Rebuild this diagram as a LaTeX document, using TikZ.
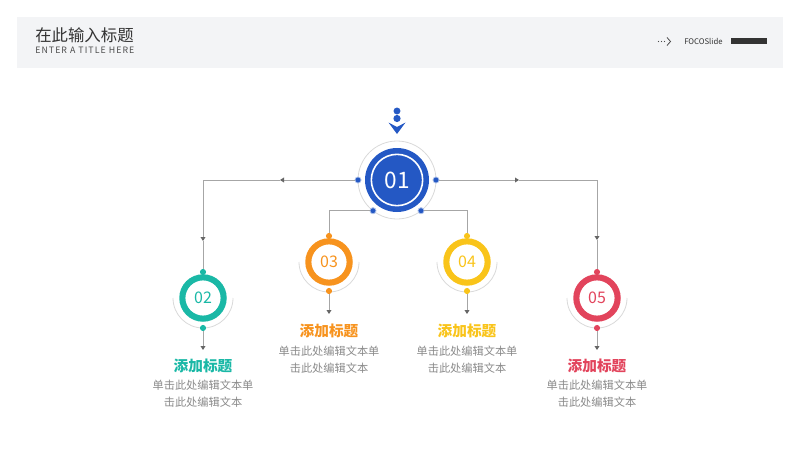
\documentclass[tikz,border=0pt]{standalone}
\usepackage{fontspec}
\setmainfont{Noto Sans CJK SC}
\usetikzlibrary{arrows.meta}
\definecolor{HeadGray}{RGB}{243,244,246}
\definecolor{HubBlue}{RGB}{36,88,196}
\definecolor{Teal}{RGB}{26,184,166}
\definecolor{Orange}{RGB}{247,147,30}
\definecolor{Gold}{RGB}{249,196,26}
\definecolor{Rose}{RGB}{226,68,92}
\definecolor{LinkGray}{RGB}{166,166,166}
\definecolor{RingGray}{RGB}{217,217,217}
\definecolor{TextGray}{RGB}{138,138,138}

\begin{document}
\begin{tikzpicture}[x=0.75pt,y=-0.75pt,
    link/.style={draw=LinkGray,line width=0.75pt},
    tip/.style={-{Triangle[length=3pt,width=3.6pt,fill=black!60,color=black!60]}},
    numring/.style={circle,draw=#1,line width=4.6pt,minimum size=31pt,inner sep=0pt,text=#1,
        font=\fontsize{12}{14}\selectfont},
    ringdot/.style={circle,fill=#1,minimum size=4.6pt,inner sep=0pt},
    hubdot/.style={circle,fill=HubBlue,draw=HubBlue!35,line width=0.6pt,minimum size=4.6pt,inner sep=0pt},
    halfarc/.style={draw=RingGray,line width=0.6pt},
    heading/.style={text=#1,font=\fontsize{11}{13}\selectfont\bfseries},
    desc/.style={text=TextGray,align=center,font=\fontsize{8.4}{12.75}\selectfont}]
    \useasboundingbox (0,0) rectangle (800,450);
    % header band
    \fill[HeadGray] (17,17) rectangle (783,68);
    \node[anchor=west,inner sep=0pt,text=black!80] (title) at (35,35) {\fontsize{12.3}{14}\selectfont 在此输入标题};
    \node[anchor=west,inner sep=0pt,text=black!70] (subtitle) at (35,50)
        {\fontsize{6.6}{8}\selectfont\addfontfeatures{LetterSpace=12}ENTER A TITLE HERE};
    \foreach \i in {658.5,661.5,664.5} \fill[black!70] (\i,41.5) circle (0.45pt);
    \draw[black!70,line width=0.6pt] (667,37.5) -- (670.5,41.5) -- (667,45.5);
    \node[anchor=west,inner sep=0pt,text=black!80] (brand) at (684,41) {\fontsize{5.8}{7}\selectfont FOCOSlide};
    \fill[black!80] (731,38) rectangle (767,44);

    % hub
    \node[ringdot=HubBlue,minimum size=5.2pt] (dotA) at (397,111) {};
    \node[ringdot=HubBlue,minimum size=5.4pt] (dotB) at (397,118.5) {};
    \fill[HubBlue] (388.5,122.5) -- (397,127) -- (405.5,122.5) -- (397,134) -- cycle;
    \node[circle,draw=RingGray,line width=0.6pt,minimum size=58.5pt,outer sep=0pt] (hub) at (397,180) {};
    \node[circle,fill=HubBlue,minimum size=48pt] (disk) at (397,180) {};
    \node[circle,draw=white,line width=1.2pt,minimum size=38.5pt,text=white,
        font=\fontsize{17}{20}\selectfont] (hubnum) at (397,180) {01};
    \node[hubdot] (hl) at (hub.180) {};
    \node[hubdot] (hr) at (hub.0) {};
    \node[hubdot] (hbl) at (hub.232) {};
    \node[hubdot] (hbr) at (hub.308) {};

    % items
    \draw[halfarc] (173,298) arc[start angle=180,end angle=360,radius=22.5pt];
    \node[numring=Teal] (n2) at (203,298) {02};
    \node[ringdot=Teal] (t2) at (203,272) {};
    \node[ringdot=Teal] (u2) at (203,328) {};
    \node[heading=Teal] (h2) at (203,366) {添加标题};
    \node[desc] (b2) at (203,394) {单击此处编辑文本单\\击此处编辑文本};

    \draw[halfarc] (299,262) arc[start angle=180,end angle=360,radius=22.5pt];
    \node[numring=Orange] (n3) at (329,262) {03};
    \node[ringdot=Orange] (t3) at (329,236) {};
    \node[ringdot=Orange] (u3) at (329,291) {};
    \node[heading=Orange] (h3) at (329,331) {添加标题};
    \node[desc] (b3) at (329,360) {单击此处编辑文本单\\击此处编辑文本};

    \draw[halfarc] (437,262) arc[start angle=180,end angle=360,radius=22.5pt];
    \node[numring=Gold] (n4) at (467,262) {04};
    \node[ringdot=Gold] (t4) at (467,236) {};
    \node[ringdot=Gold] (u4) at (467,291) {};
    \node[heading=Gold] (h4) at (467,331) {添加标题};
    \node[desc] (b4) at (467,360) {单击此处编辑文本单\\击此处编辑文本};

    \draw[halfarc] (567,298) arc[start angle=180,end angle=360,radius=22.5pt];
    \node[numring=Rose] (n5) at (597,298) {05};
    \node[ringdot=Rose] (t5) at (597,272) {};
    \node[ringdot=Rose] (u5) at (597,328) {};
    \node[heading=Rose] (h5) at (597,366) {添加标题};
    \node[desc] (b5) at (597,394) {单击此处编辑文本单\\击此处编辑文本};

    % connectors
    \coordinate (la) at (280,180);
    \coordinate (ra) at (519,180);
    \coordinate (da2) at (203,241);
    \coordinate (da5) at (597,240);
    \draw[link,tip] (hl) -- (la);
    \draw[link,tip] (la) -- (la -| t2) -- (da2);
    \draw[link] (da2) -- (t2);
    \draw[link,tip] (hr) -- (ra);
    \draw[link,tip] (ra) -- (ra -| t5) -- (da5);
    \draw[link] (da5) -- (t5);
    \draw[link] (hbl) -- (hbl -| t3) -- (t3);
    \draw[link] (hbr) -- (hbr -| t4) -- (t4);
    \coordinate (e2) at (203,350);
    \coordinate (e3) at (329,314);
    \coordinate (e4) at (467,314);
    \coordinate (e5) at (597,350);
    \draw[link,tip] (u2) -- (e2);
    \draw[link,tip] (u3) -- (e3);
    \draw[link,tip] (u4) -- (e4);
    \draw[link,tip] (u5) -- (e5);
\end{tikzpicture}
\end{document}
